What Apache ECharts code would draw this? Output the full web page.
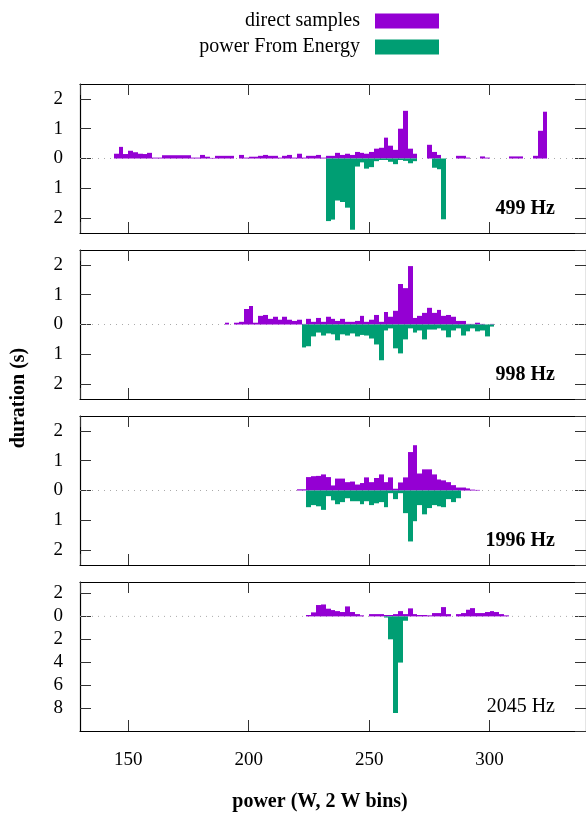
<!DOCTYPE html>
<html>
<head>
<meta charset="utf-8">
<script src="https://cdn.jsdelivr.net/npm/echarts@6/dist/echarts.min.js"></script>
<style>
html, body { margin: 0; background: #fff; }
#chart { width: 586px; height: 822px; }
</style>
</head>
<body>
<div id="chart"></div>
<script>
// one row per sampling frequency, bins are 2 W wide, first bin centre given in *Start
var panelNames = ['499 Hz', '998 Hz', '1996 Hz', '2045 Hz'];
var directStart = [145, 191, 221, 225];
var energyStart = [233, 223, 225, 257];
var binWidth = 2;

var direct499 = [0.16, 0.39, 0.15, 0.26, 0.21, 0.16, 0.15, 0.19, 0.03, 0.03,
  0.11, 0.11, 0.11, 0.11, 0.11, 0.11, 0.03, 0.03, 0.12, 0.06,
  0.02, 0.09, 0.09, 0.09, 0.09, 0, 0.12, 0.03, 0.06, 0.06,
  0.09, 0.12, 0.09, 0.09, 0.03, 0.09, 0.12, 0.03, 0.16, 0.03,
  0.09, 0.09, 0.12, 0.03, 0.09, 0.09, 0.19, 0.12, 0.16, 0.12,
  0.22, 0.19, 0.16, 0.22, 0.33, 0.36, 0.70, 0.43, 0.29, 1.0,
  1.6, 0.33, 0.16, 0, 0, 0.46, 0.22, 0.12, 0, 0,
  0, 0.09, 0.09, 0.03, 0, 0, 0.07, 0.03, 0, 0,
  0, 0, 0.07, 0.07, 0.07, 0, 0, 0.09, 0.93, 1.57];
var energy499 = [2.1, 2.05, 1.41, 1.46, 1.65, 2.39, 0.27, 0.13, 0.34, 0.29,
  0.09, 0.05, 0.05, 0.11, 0.19, 0.05, 0.08, 0.16, 0.09, 0,
  0, 0, 0.31, 0.36, 2.04];

var direct998 = [0.06, 0, 0.06, 0.09, 0.52, 0.62, 0.06, 0.29, 0.32, 0.19,
  0.26, 0.16, 0.26, 0.16, 0.12, 0.16, 0.02, 0.19, 0.09, 0.22,
  0.09, 0.26, 0.19, 0.12, 0.19, 0.09, 0.09, 0.12, 0.29, 0.09,
  0.16, 0.32, 0.09, 0.42, 0.26, 0.46, 1.36, 1.22, 1.96, 0.22,
  0.29, 0.39, 0.56, 0.39, 0.49, 0.29, 0.32, 0.26, 0.12, 0.12,
  0.02, 0.02, 0.06, 0.02, 0, 0.02];
var energy998 = [0.77, 0.73, 0.40, 0.27, 0.37, 0.30, 0.33, 0.53, 0.33, 0.37,
  0.30, 0.40, 0.35, 0.37, 0.47, 0.67, 1.2, 0.2, 0.13, 0.8,
  0.97, 0.5, 0.13, 0.27, 0.2, 0.5, 0.17, 0.17, 0.13, 0.2,
  0.43, 0.2, 0.13, 0.37, 0.23, 0.13, 0.23, 0.2, 0.4, 0.07];

var direct1996 = [0.04, 0.04, 0.45, 0.48, 0.49, 0.54, 0.45, 0.17, 0.40, 0.40,
  0.28, 0.30, 0.2, 0.25, 0.44, 0.28, 0.42, 0.54, 0.28, 0.44,
  0.06, 0.27, 0.44, 1.29, 1.52, 0.57, 0.71, 0.71, 0.54, 0.37,
  0.34, 0.28, 0.18, 0.10, 0.10, 0.07, 0.03, 0.02];
var energy1996 = [0.56, 0.49, 0.53, 0.65, 0.19, 0.33, 0.46, 0.39, 0.26, 0.36,
  0.36, 0.46, 0.36, 0.49, 0.43, 0.39, 0.56, 0.09, 0.29, 0.09,
  0.76, 1.71, 1.03, 0.49, 0.80, 0.59, 0.49, 0.53, 0.56, 0.29,
  0.39, 0.26];

var direct2045 = [0.12, 0.35, 0.99, 1.04, 0.67, 0.55, 0.46, 0.38, 0.87, 0.38,
  0.2, 0.09, 0, 0.2, 0.2, 0.2, 0.12, 0.12, 0.2, 0.46,
  0.2, 0.7, 0.2, 0.12, 0.12, 0.09, 0.29, 0.29, 0.81, 0.2,
  0, 0.2, 0.29, 0.58, 0.72, 0.29, 0.29, 0.38, 0.46, 0.38,
  0.2, 0.09];
var energy2045 = [0.1, 2.0, 8.43, 4.03, 0.38];

var directData = [direct499, direct998, direct1996, direct2045];
var energyData = [energy499, energy998, energy1996, energy2045];

var yMin = [-2.5, -2.5, -2.5, -10];
var yMax = [2.5, 2.5, 2.5, 3];
var yStep = [1, 1, 1, 2];

var font = 'Liberation Serif';
var purple = '#9400d3';
var green = '#009e73';
var gridTop = [84, 250, 416, 582];

var myChart = echarts.init(document.getElementById('chart'));

// empty bins are left out so they leave no sliver on the zero line
function toPoints(start, vals, sign) {
  var pts = [];
  vals.forEach(function (v, i) {
    if (v > 0) pts.push([start + binWidth * i, sign * v]);
  });
  return pts;
}

// gnuplot style boxes: each box spans its whole bin, edges snapped to pixels so neighbours touch
function boxes(color) {
  return function (params, api) {
    var c = api.value(0), v = api.value(1);
    var a = api.coord([c - binWidth / 2, 0]);
    var b = api.coord([c + binWidth / 2, v]);
    var x0 = Math.round(a[0]), x1 = Math.round(b[0]);
    var y0 = Math.min(a[1], b[1]), y1 = Math.max(a[1], b[1]);
    return {
      type: 'rect',
      shape: { x: x0, y: y0, width: x1 - x0, height: y1 - y0 },
      style: { fill: color }
    };
  };
}

var grids = [], xAxes = [], yAxes = [], series = [], graphics = [];
for (var p = 0; p < 4; p++) {
  grids.push({ left: 80, right: -4, top: gridTop[p], height: 149 });
  var last = p === 3;
  var xBase = {
    type: 'value', gridIndex: p, min: 130, max: 340, splitNumber: 4,
    axisLine: { show: true, onZero: false, lineStyle: { color: '#000', width: 1.2 } },
    axisTick: { show: true, inside: true, length: 11, lineStyle: { color: '#333' } },
    splitLine: { show: false }
  };
  xAxes.push(Object.assign({}, xBase, {
    position: 'bottom',
    axisLabel: {
      show: last, margin: 20, fontFamily: font, fontSize: 19, color: '#000',
      showMinLabel: false, showMaxLabel: false,
      formatter: function (v) { return v % 50 === 0 ? v : ''; }
    }
  }));
  xAxes.push(Object.assign({}, xBase, { position: 'top', axisLabel: { show: false } }));

  (function (lo, hi) {
    var yBase = {
      type: 'value', gridIndex: p, min: lo, max: hi, interval: yStep[p],
      axisLine: { show: true, onZero: false, lineStyle: { color: '#000', width: 1.2 } },
      axisTick: { show: true, inside: true, length: 11, lineStyle: { color: '#333' } },
      splitLine: { show: false }
    };
    if (lo === -2.5) delete yBase.interval;
    yAxes.push(Object.assign({}, yBase, {
      position: 'left',
      axisLabel: {
        margin: 17, fontFamily: font, fontSize: 19, color: '#000',
        showMinLabel: false, showMaxLabel: false,
        formatter: function (v) {
          return (Number.isInteger(v) && v > lo && v < hi) ? String(Math.abs(v)) : '';
        }
      }
    }));
    yAxes.push(Object.assign({}, yBase, { position: 'right', axisLabel: { show: false } }));
  })(yMin[p], yMax[p]);

  series.push({
    type: 'line', xAxisIndex: 2 * p, yAxisIndex: 2 * p, z: 1, silent: true,
    symbol: 'none', data: [[130, 0], [340, 0]],
    lineStyle: { color: '#aaa', width: 1, type: [1, 5] }
  });
  series.push({
    name: 'direct samples', type: 'custom', xAxisIndex: 2 * p, yAxisIndex: 2 * p, z: 3,
    clip: true, encode: { x: 0, y: 1 }, itemStyle: { color: purple },
    renderItem: boxes(purple),
    data: toPoints(directStart[p], directData[p], 1)
  });
  series.push({
    name: 'power From Energy', type: 'custom', xAxisIndex: 2 * p, yAxisIndex: 2 * p, z: 3,
    clip: true, encode: { x: 0, y: 1 }, itemStyle: { color: green },
    renderItem: boxes(green),
    data: toPoints(energyStart[p], energyData[p], -1)
  });

  graphics.push({
    type: 'text', x: 555, y: 209 + 166 * p,
    style: {
      text: panelNames[p], textAlign: 'right', textVerticalAlign: 'middle',
      font: (last ? 'normal ' : 'bold ') + '20px "' + font + '"', fill: '#000'
    }
  });
}

graphics.push({
  type: 'text', x: 19, y: 398, rotation: Math.PI / 2,
  style: { text: 'duration (s)', textAlign: 'center', textVerticalAlign: 'middle',
    font: 'bold 20px "' + font + '"', fill: '#000' }
});
graphics.push({
  type: 'text', x: 320, y: 802,
  style: { text: 'power (W, 2 W bins)', textAlign: 'center', textVerticalAlign: 'middle',
    font: 'bold 20px "' + font + '"', fill: '#000' }
});

var option = {
  animation: false,
  backgroundColor: '#fff',
  legend: {
    data: [
      { name: 'direct samples', itemStyle: { color: purple } },
      { name: 'power From Energy', itemStyle: { color: green } }
    ],
    orient: 'vertical', right: 142, top: 6, align: 'right',
    itemWidth: 64, itemHeight: 15, itemGap: 6, icon: 'rect',
    textStyle: { fontFamily: font, fontSize: 20, color: '#000', padding: [0, 10, 0, 0] }
  },
  grid: grids,
  xAxis: xAxes,
  yAxis: yAxes,
  series: series,
  graphic: graphics
};
myChart.setOption(option);
window.addEventListener('resize', function () { myChart.resize(); });
</script>
</body>
</html>
